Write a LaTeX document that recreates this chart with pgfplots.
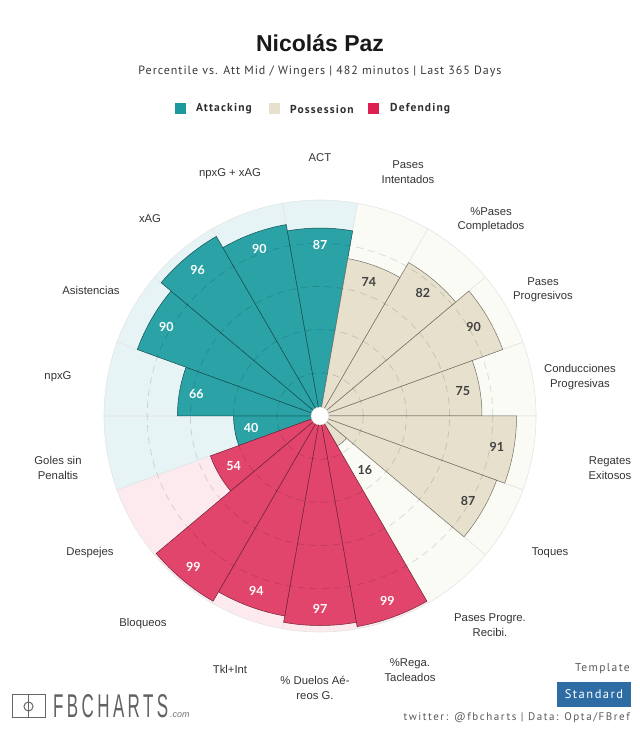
\documentclass[border=0pt]{standalone}
\usepackage{pgfplots}
\pgfplotsset{compat=1.18}
\usepackage{pgfplotstable}
\usepackage{fontspec}
\setmainfont{Liberation Sans}
\newfontfamily\subfont{PT Sans}[LetterSpace=8]
\newfontfamily\legfont{PT Sans}[LetterSpace=10]
\newfontfamily\smallfont{PT Sans}[LetterSpace=12]
\newfontfamily\twfont{PT Sans}[LetterSpace=14]
\newfontfamily\numfont{Lato}
\newfontfamily\logofont{Liberation Sans}[LetterSpace=20]

\definecolor{att}{HTML}{2AA2A6}
\definecolor{attbg}{HTML}{E6F4F5}
\definecolor{pos}{HTML}{E6E0CD}
\definecolor{posbg}{HTML}{FBFBF6}
\definecolor{def}{HTML}{E1456B}
\definecolor{defbg}{HTML}{FCEAEE}
\definecolor{legatt}{HTML}{1A9A9C}
\definecolor{legpos}{HTML}{E6E0CC}
\definecolor{legdef}{HTML}{DC2050}
\definecolor{labcol}{HTML}{333333}
\definecolor{stdblue}{HTML}{2E6DA4}

% angle = centre of the slice (degrees), val = percentile
\pgfplotstableread{
ang val
190 40
170 66
150 90
130 96
110 90
90 87
}\attacking
\pgfplotstableread{
ang val
70 74
50 82
30 90
10 75
-10 91
-30 87
-50 16
}\possession
\pgfplotstableread{
ang val
-70 99
-90 97
-110 94
-130 99
-150 54
}\defending

\pgfdeclareplotmark{wedge}{%
  \pgfmathsetmacro\wa{\wang-10}%
  \pgfmathsetmacro\wb{\wang+10}%
  \pgfpathmoveto{\pgfpointorigin}%
  \pgfpathlineto{\pgfpointpolar{\wa}{\wr pt}}%
  \pgfpatharc{\wa}{\wb}{\wr pt}%
  \pgfpathclose
  \pgfusepathqfillstroke}

\pgfplotsset{
  wedges/.style n args={3}{scatter, only marks, mark=wedge,
     point meta=explicit,
     scatter/@pre marker code/.code={\scope},
     scatter/@post marker code/.code={\endscope},
     mark options={fill=#1, draw=#2, line width=#3, solid},
     visualization depends on={\thisrow{ang}\as\wang}},
  bars/.style={visualization depends on={2.16*\thisrow{val}\as\wr}},
  full/.style={visualization depends on={216+0*\thisrow{val}\as\wr}},
  vals/.style={draw=none, mark=none, point meta=explicit,
     nodes near coords={\pgfmathprintnumber[assume math mode=true]{\pgfplotspointmeta}},
     visualization depends on={\thisrow{ang}\as\wang},
     visualization depends on={max(2.16*\thisrow{val}-17,70)\as\lr},
     every node near coord/.append style={anchor=center, text=#1,
        font=\numfont\bfseries\fontsize{12.5}{13}\selectfont,
        shift={(\wang:\lr pt)}}},
}
\tikzset{lab/.style={font=\fontsize{11.3}{14.5}\selectfont, text=labcol, align=center},
  ring/.style={draw=black, draw opacity=0.14, line width=0.7pt, dash pattern=on 7pt off 5pt}}

\begin{document}
\begin{tikzpicture}
\begin{axis}[width=640pt, height=732pt, scale only axis,
  xmin=0, xmax=640, ymin=0, ymax=732, hide axis, clip=false,
  clip marker paths=true]
\path (axis cs:0,0) rectangle (axis cs:640,732);

% background slices
\addplot[wedges={attbg}{black!10}{0.6pt}, full] table[x expr=320, y expr=316, meta=val] {\attacking};
\addplot[wedges={posbg}{black!10}{0.6pt}, full] table[x expr=320, y expr=316, meta=val] {\possession};
\addplot[wedges={defbg}{black!10}{0.6pt}, full] table[x expr=320, y expr=316, meta=val] {\defending};

% bars
\addplot[wedges={att}{att!50!black}{0.5pt}, bars] table[x expr=320, y expr=316, meta=val] {\attacking};
\addplot[wedges={pos}{pos!50!black}{0.5pt}, bars] table[x expr=320, y expr=316, meta=val] {\possession};
\addplot[wedges={def}{def!50!black}{0.5pt}, bars] table[x expr=320, y expr=316, meta=val] {\defending};

% dashed reference circles (20, 40, 60, 80)
\draw[ring] (axis cs:320,316) circle[radius=43.2];
\draw[ring] (axis cs:320,316) circle[radius=86.4];
\draw[ring] (axis cs:320,316) circle[radius=129.6];
\draw[ring] (axis cs:320,316) circle[radius=172.8];
\fill[white] (axis cs:320,316) circle[radius=9];
\draw[black!20, line width=0.4pt] (axis cs:320,316) circle[radius=9];

% values
\addplot[vals=white] table[x expr=320, y expr=316, meta=val] {\attacking};
\addplot[vals=black!75] table[x expr=320, y expr=316, meta=val] {\possession};
\addplot[vals=white] table[x expr=320, y expr=316, meta=val] {\defending};

% slice labels
\node[lab] at (axis cs:320,574) {ACT};
\node[lab] at (axis cs:408,560) {Pases\\Intentados};
\node[lab] at (axis cs:491,512) {\%Pases\\Completados};
\node[lab] at (axis cs:543,442) {Pases\\Progresivos};
\node[lab] at (axis cs:580,355) {Conducciones\\Progresivas};
\node[lab] at (axis cs:610,264) {Regates\\Exitosos};
\node[lab] at (axis cs:550,179) {Toques};
\node[lab] at (axis cs:490,107) {Pases Progre.\\Recibi.};
\node[lab] at (axis cs:410,62) {\%Rega.\\Tacleados};
\node[lab] at (axis cs:315,44) {\% Duelos Aé-\\reos G.};
\node[lab] at (axis cs:230,63) {Tkl+Int};
\node[lab] at (axis cs:143,108) {Bloqueos};
\node[lab] at (axis cs:90,179) {Despejes};
\node[lab] at (axis cs:58,264) {Goles sin\\Penaltis};
\node[lab] at (axis cs:58,355) {npxG};
\node[lab] at (axis cs:91,442) {Asistencias};
\node[lab] at (axis cs:150,513) {xAG};
\node[lab] at (axis cs:230,558) {npxG + xAG};

% title and subtitle
\node[font=\bfseries\fontsize{23}{26}\selectfont, text=black!90] at (axis cs:320,689) {Nicolás Paz};
\node[font=\subfont\fontsize{12}{14}\selectfont, text=black!78] at (axis cs:320,660) {Percentile vs. Att Mid / Wingers | 482 minutos | Last 365 Days};

% legend
\fill[legatt] (axis cs:175,617.5) rectangle (axis cs:186,628.5);
\fill[legpos] (axis cs:269,617.5) rectangle (axis cs:280,628.5);
\fill[legdef] (axis cs:368,617.5) rectangle (axis cs:379,628.5);
\node[anchor=west, inner sep=0pt, font=\legfont\bfseries\fontsize{11.5}{13}\selectfont, text=black!82] at (axis cs:196,623) {Attacking};
\node[anchor=west, inner sep=0pt, font=\legfont\bfseries\fontsize{11.5}{13}\selectfont, text=black!82] at (axis cs:290,623) {Possession};
\node[anchor=west, inner sep=0pt, font=\legfont\bfseries\fontsize{11.5}{13}\selectfont, text=black!82] at (axis cs:390,623) {Defending};

% footer right
\node[anchor=east, inner sep=0pt, font=\smallfont\fontsize{11.5}{13}\selectfont, text=black!65] at (axis cs:630,63) {Template};
\fill[stdblue] (axis cs:557,25) rectangle (axis cs:631,50);
\node[inner sep=0pt, font=\smallfont\fontsize{12.5}{14}\selectfont, text=white] at (axis cs:594,37.5) {Standard};
\node[anchor=east, inner sep=0pt, font=\twfont\fontsize{11}{13}\selectfont, text=black!65] at (axis cs:630,14) {twitter: @fbcharts | Data: Opta/FBref};

% footer left logo
\draw[black!60, line width=1pt] (axis cs:12,14) rectangle (axis cs:45,37);
\draw[black!60, line width=1pt] (axis cs:28.5,14) -- (axis cs:28.5,37);
\draw[black!60, line width=1pt] (axis cs:28.5,25.5) circle[radius=4.5];
\node[anchor=west, inner sep=0pt, text=black!62] at (axis cs:53,25.5) {\resizebox{115pt}{23pt}{\logofont FBCHARTS}};
\node[anchor=base west, inner sep=0pt, font=\itshape\fontsize{9}{10}\selectfont, text=black!55] at (axis cs:170,14) {.com};
\end{axis}
\end{tikzpicture}
\end{document}
